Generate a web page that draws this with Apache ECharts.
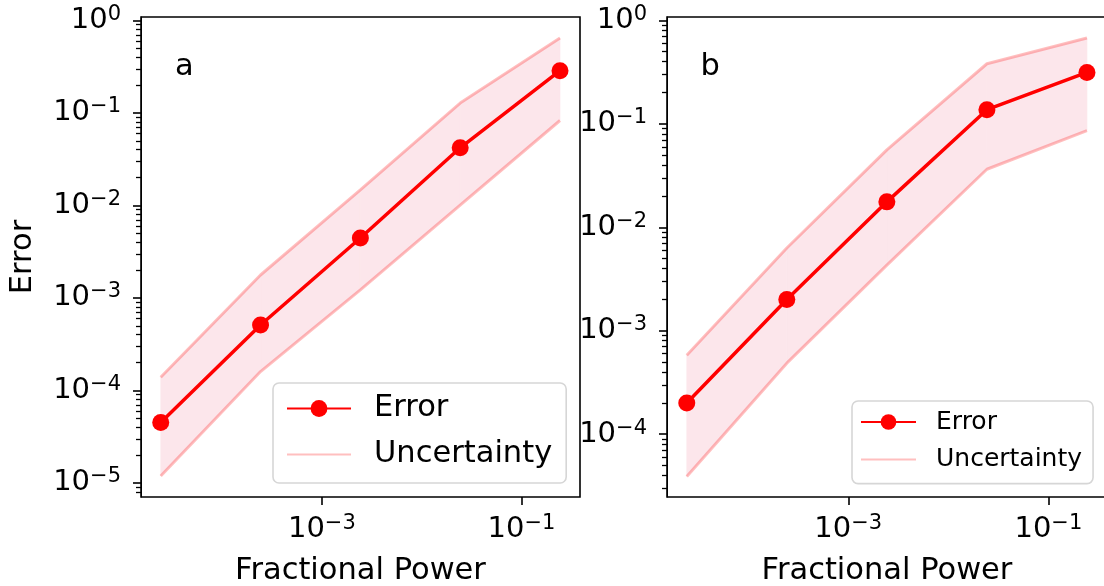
<!DOCTYPE html>
<html><head><meta charset="utf-8">
<script src="https://cdn.jsdelivr.net/npm/echarts@6/dist/echarts.min.js"></script>
<style>html,body{margin:0;padding:0;background:#fff}#c{width:1104px;height:586px}</style>
</head><body><div id="c"></div>
<script>
// ---- data ----
const fractionalPower = [2.43e-5, 2.43e-4, 2.43e-3, 2.43e-2, 2.43e-1];
const errorA = [4.5e-5, 5.1e-4, 4.45e-3, 0.042, 0.286];
const upperA = [1.39e-4, 1.77e-3, 1.47e-2, 0.128, 0.645];
const lowerA = [1.19e-5, 1.6e-4, 1.22e-3, 1.01e-2, 0.0828];
const errorB = [2.0e-4, 2.0e-3, 0.0176, 0.137, 0.314];
const upperB = [5.8e-4, 6.3e-3, 0.056, 0.381, 0.676];
const lowerB = [3.9e-5, 4.85e-4, 4.3e-3, 0.0364, 0.0861];
const xTicks = [1e-3, 1e-1];
const yTicksA = [1e-5, 1e-4, 1e-3, 1e-2, 1e-1, 1];
const yTicksB = [1e-4, 1e-3, 1e-2, 1e-1, 1];
const panelLabels = ['a', 'b'];
const seriesNames = ['Error', 'Uncertainty'];
const xLabel = 'Fractional Power';
const yLabel = 'Error';

// axis limits (log10 extents)
const xRange = [Math.pow(10, -4.812), Math.pow(10, -0.414)];
const yRangeA = [Math.pow(10, -5.152), Math.pow(10, 0.037)];
const yRangeB = [Math.pow(10, -4.608), Math.pow(10, 0.033)];

const FONT = 'DejaVu Sans';
const RED = '#ff0000';
const BAND_LINE = 'rgba(255,0,0,0.25)';
const BAND_FILL = 'rgb(252,230,235)';

function minorTicks(majors, range) {
  const out = [];
  const decades = [majors[0] / 10].concat(majors);
  decades.forEach(d => {
    for (let m = 2; m <= 9; m++) {
      const v = m * d;
      if (v >= range[0] && v <= range[1]) out.push(v);
    }
  });
  return out;
}
function fmt(v) {
  const e = Math.round(Math.log10(v));
  return '{base|10}{sup|' + (e < 0 ? '\u2212' + (-e) : String(e)) + '}';
}
const rich = {
  base: { fontFamily: FONT, fontSize: 29, lineHeight: 29, verticalAlign: 'bottom', color: '#000' },
  sup: { fontFamily: FONT, fontSize: 21, lineHeight: 21, verticalAlign: 'bottom', padding: [0, 0, 10, 0], color: '#000' }
};
const pairs = ys => fractionalPower.map((x, i) => [x, ys[i]]);
const bandSegments = (up, lo) => fractionalPower.slice(0, -1).map((x, i) =>
  [x, up[i], lo[i], fractionalPower[i + 1], up[i + 1], lo[i + 1]]);

const grids = [
  { left: 141, top: 17, width: 439, height: 480 },
  { left: 667, top: 17, width: 440, height: 480 }
].map(g => Object.assign(g, { show: true, borderColor: '#000', borderWidth: 1.6, backgroundColor: 'transparent',
  outerBoundsMode: 'none', containLabel: false }));

function xAxisFor(gi) {
  return {
    type: 'log', gridIndex: gi, min: xRange[0], max: xRange[1],
    name: xLabel, nameLocation: 'middle', nameGap: 59, nameMoveOverlap: false,
    nameTextStyle: { fontFamily: FONT, fontSize: 30.5, color: '#000' },
    axisLine: { show: false },
    splitLine: { show: false }, minorSplitLine: { show: false },
    axisTick: { show: true, customValues: xTicks, length: 8, lineStyle: { color: '#000', width: 1.6 } },
    axisLabel: { customValues: xTicks, formatter: fmt, rich: rich, margin: 18,
                 fontFamily: FONT, fontSize: 29, color: '#000' }
  };
}
function yAxisMain(gi, range, majors, name) {
  return {
    type: 'log', gridIndex: gi, min: range[0], max: range[1], position: 'left',
    name: name || '', nameLocation: 'middle', nameGap: 102, nameRotate: 90, nameMoveOverlap: false,
    nameTextStyle: { fontFamily: FONT, fontSize: 30.5, color: '#000' },
    axisLine: { show: false },
    splitLine: { show: false }, minorSplitLine: { show: false },
    axisTick: { show: true, customValues: majors, length: 8, lineStyle: { color: '#000', width: 1.6 } },
    axisLabel: { customValues: majors, formatter: fmt, rich: rich, margin: 20,
                 fontFamily: FONT, fontSize: 29, color: '#000' }
  };
}
function yAxisMinor(gi, range, majors) {
  return {
    type: 'log', gridIndex: gi, min: range[0], max: range[1], position: 'left', offset: 0,
    axisLine: { show: true, lineStyle: { color: '#000', width: 1 } }, splitLine: { show: false },
    axisTick: { show: true, customValues: minorTicks(majors, range), length: 5, lineStyle: { color: '#000', width: 1.3 } },
    axisLabel: { show: false }
  };
}

function panelSeries(xi, yi, err, up, lo) {
  return [
    { name: 'band', type: 'custom', xAxisIndex: xi, yAxisIndex: yi, data: bandSegments(up, lo),
      silent: true, z: 1,
      renderItem: function (params, api) {
        const p1 = api.coord([api.value(0), api.value(1)]);
        const p2 = api.coord([api.value(3), api.value(4)]);
        const p3 = api.coord([api.value(3), api.value(5)]);
        const p4 = api.coord([api.value(0), api.value(2)]);
        return { type: 'polygon', shape: { points: [p1, p2, p3, p4] },
                 style: { fill: BAND_FILL, stroke: BAND_FILL, lineWidth: 0.6 } };
      } },
    { name: seriesNames[1], type: 'line', xAxisIndex: xi, yAxisIndex: yi, data: pairs(lo),
      symbol: 'none', lineStyle: { color: BAND_LINE, width: 3 }, itemStyle: { color: BAND_LINE }, z: 2 },
    { name: seriesNames[1], type: 'line', xAxisIndex: xi, yAxisIndex: yi, data: pairs(up),
      symbol: 'none', lineStyle: { color: BAND_LINE, width: 3 }, itemStyle: { color: BAND_LINE }, z: 2 },
    { name: seriesNames[0], type: 'line', xAxisIndex: xi, yAxisIndex: yi, data: pairs(err),
      symbol: 'circle', symbolSize: 17, showSymbol: true,
      lineStyle: { color: RED, width: 3.5 }, itemStyle: { color: RED }, z: 5 }
  ];
}

function legendFor(pos, fontSize, itemW, itemH, lineH, gap, padding, textPadLeft) {
  return Object.assign({
    orient: 'vertical', itemWidth: itemW, itemHeight: itemH, itemGap: gap, padding: padding,
    backgroundColor: 'rgba(255,255,255,0.8)', borderColor: '#d6d6d6', borderWidth: 1.6, borderRadius: 6,
    selectedMode: false,
    textStyle: { fontFamily: FONT, fontSize: fontSize, lineHeight: lineH, color: '#000', padding: [0, 0, 0, textPadLeft] },
    data: [
      { name: seriesNames[0] },
      { name: seriesNames[1], itemStyle: { opacity: 0 } }
    ]
  }, pos);
}

const titleStyle = { fontFamily: FONT, fontSize: 30.5, fontWeight: 'normal', color: '#000' };
const option = {
  animation: false,
  backgroundColor: '#fff',
  title: [
    { text: panelLabels[0], left: 175, top: 52, padding: 0, textStyle: titleStyle },
    { text: panelLabels[1], left: 700.5, top: 52, padding: 0, textStyle: titleStyle }
  ],
  grid: grids,
  xAxis: [xAxisFor(0), xAxisFor(1)],
  yAxis: [yAxisMain(0, yRangeA, yTicksA, yLabel), yAxisMinor(0, yRangeA, yTicksA),
          yAxisMain(1, yRangeB, yTicksB, ''), yAxisMinor(1, yRangeB, yTicksB)],
  legend: [
    legendFor({ left: 273, top: 383 }, 30.5, 64, 21, 30, 15, [10, 14, 13, 13], 18),
    legendFor({ left: 852, top: 401 }, 25, 55, 19.6, 26, 11.6, [8, 11, 11, 8], 15)
  ],
  series: [].concat(
    panelSeries(0, 0, errorA, upperA, lowerA),
    panelSeries(1, 2, errorB, upperB, lowerB)
  )
};
const chart = echarts.init(document.getElementById('c'), null, { renderer: 'canvas' });
chart.setOption(option);
</script></body></html>
